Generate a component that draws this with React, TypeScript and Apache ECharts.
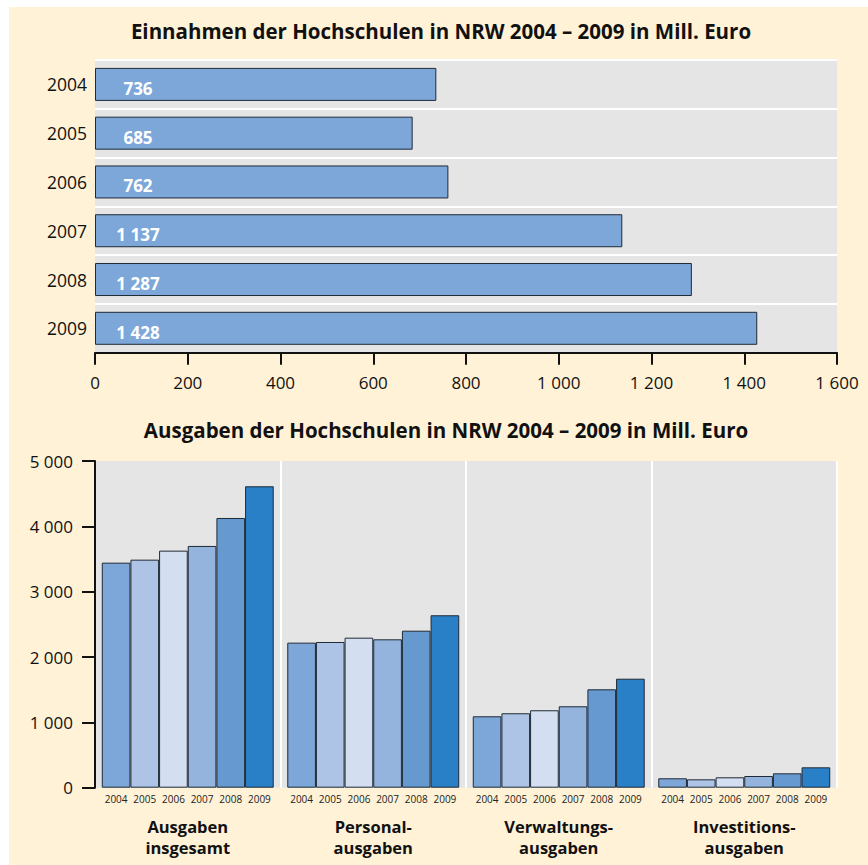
import React, { useEffect, useRef } from 'react';
import * as echarts from 'echarts';

// ---- Data ----
const incomeYears = ['2004', '2005', '2006', '2007', '2008', '2009'];
const incomeValues = [736, 685, 762, 1137, 1287, 1428];

const spendCategories = [
  'Ausgaben\ninsgesamt',
  'Personal-\nausgaben',
  'Verwaltungs-\nausgaben',
  'Investitions-\nausgaben',
];
const spendYears = ['2004', '2005', '2006', '2007', '2008', '2009'];
const spend2004 = [3444, 2220, 1093, 144];
const spend2005 = [3490, 2230, 1139, 128];
const spend2006 = [3628, 2296, 1185, 159];
const spend2007 = [3700, 2271, 1246, 179];
const spend2008 = [4128, 2403, 1506, 220];
const spend2009 = [4613, 2639, 1668, 312];
const spendByYear = [spend2004, spend2005, spend2006, spend2007, spend2008, spend2009];

const yearColors = ['#7DA7D9', '#AEC4E6', '#D4DEF1', '#94B4DE', '#6699D0', '#2A80C7'];

const titleIncome = 'Einnahmen der Hochschulen in NRW 2004 – 2009 in Mill. Euro';
const titleSpend = 'Ausgaben der Hochschulen in NRW 2004 – 2009 in Mill. Euro';

const FONT = '"Open Sans", "Noto Sans", sans-serif';
const fmt = (v: number) => String(v).replace(/\B(?=(\d{3})+(?!\d))/g, ' ');

export default function App() {
  const ref = useRef<HTMLDivElement>(null);

  useEffect(() => {
    if (!ref.current) return;
    const chart = echarts.init(ref.current, undefined, { renderer: 'svg' });

    const spendSeries = spendYears.map((yr, i) => ({
      name: yr,
      type: 'bar',
      xAxisIndex: 1,
      yAxisIndex: 1,
      data: spendByYear[i],
      barGap: '0%',
      barCategoryGap: '7.3%',
      itemStyle: { color: yearColors[i], borderColor: '#1f2a36', borderWidth: 1 },
      label: {
        show: true,
        position: 'bottom',
        distance: 6,
        formatter: () => yr,
        fontSize: 10,
        color: '#222',
        fontFamily: FONT,
      },
    }));

    chart.setOption({
      animation: false,
      textStyle: { fontFamily: FONT },
      graphic: [
        {
          type: 'text',
          x: 441,
          y: 31,
          style: {
            text: titleIncome,
            fontSize: 20.5,
            fontWeight: 'bold',
            fontFamily: FONT,
            fill: '#111',
            textAlign: 'center',
            textVerticalAlign: 'middle',
          },
        },
        {
          type: 'text',
          x: 446,
          y: 430,
          style: {
            text: titleSpend,
            fontSize: 20.5,
            fontWeight: 'bold',
            fontFamily: FONT,
            fill: '#111',
            textAlign: 'center',
            textVerticalAlign: 'middle',
          },
        },
      ],
      grid: [
        { left: 95, top: 60, width: 742, height: 292.7, show: true, backgroundColor: '#E5E5E5', borderWidth: 0 },
        { left: 95, top: 461, width: 742, height: 326.7, show: true, backgroundColor: '#E5E5E5', borderWidth: 0 },
      ],
      xAxis: [
        {
          type: 'value',
          gridIndex: 0,
          min: 0,
          max: 1600,
          interval: 200,
          axisLine: { show: true, lineStyle: { color: '#111', width: 2 } },
          axisTick: { show: true, length: 12, lineStyle: { color: '#111', width: 2 } },
          axisLabel: { fontSize: 17, color: '#111', margin: 21, formatter: (v: number) => fmt(v), fontFamily: FONT },
          splitLine: { show: false },
        },
        {
          type: 'category',
          gridIndex: 1,
          data: spendCategories,
          axisLine: { show: false },
          axisTick: { show: false },
          axisLabel: {
            fontSize: 16.5,
            fontWeight: 'bold',
            color: '#111',
            margin: 28,
            lineHeight: 21,
            fontFamily: FONT,
          },
          splitLine: { show: true, interval: 0, lineStyle: { color: '#FFFFFF', width: 2 } },
        },
      ],
      yAxis: [
        {
          type: 'category',
          gridIndex: 0,
          inverse: true,
          data: incomeYears,
          axisLine: { show: false },
          axisTick: { show: false },
          axisLabel: { fontSize: 17.5, color: '#111', margin: 8, padding: [7, 0, 0, 0], fontFamily: FONT },
          splitLine: { show: true, interval: 0, lineStyle: { color: '#FFFFFF', width: 2 } },
        },
        {
          type: 'value',
          gridIndex: 1,
          min: 0,
          max: 5000,
          interval: 1000,
          axisLine: { show: true, lineStyle: { color: '#111', width: 2 } },
          axisTick: { show: true, length: 13, lineStyle: { color: '#111', width: 2 } },
          axisLabel: {
            fontSize: 17,
            color: '#111',
            margin: 22,
            padding: [0, 0, 10, 0],
            formatter: (v: number) => fmt(v),
            fontFamily: FONT,
          },
          splitLine: { show: false },
        },
      ],
      series: [
        {
          type: 'bar',
          xAxisIndex: 0,
          yAxisIndex: 0,
          data: incomeValues,
          barWidth: 33,
          itemStyle: { color: '#7DA7D9', borderColor: '#1f2a36', borderWidth: 1 },
          label: {
            show: true,
            position: [43, '50%'],
            align: 'center',
            verticalAlign: 'middle',
            offset: [0, 4],
            formatter: (p: any) => fmt(p.value),
            fontSize: 17,
            fontWeight: 'bold',
            color: '#FFFFFF',
            fontFamily: FONT,
          },
        },
        ...spendSeries,
      ],
    });

    return () => chart.dispose();
  }, []);

  return (
    <div style={{ position: 'absolute', left: 0, top: 0, width: 868, height: 865, background: '#FFFFFF' }}>
      <div style={{ position: 'absolute', left: 9, top: 7, width: 859, height: 858, background: '#FFF2D7' }} />
      <div ref={ref} style={{ position: 'absolute', left: 0, top: 0, width: 868, height: 865 }} />
    </div>
  );
}
